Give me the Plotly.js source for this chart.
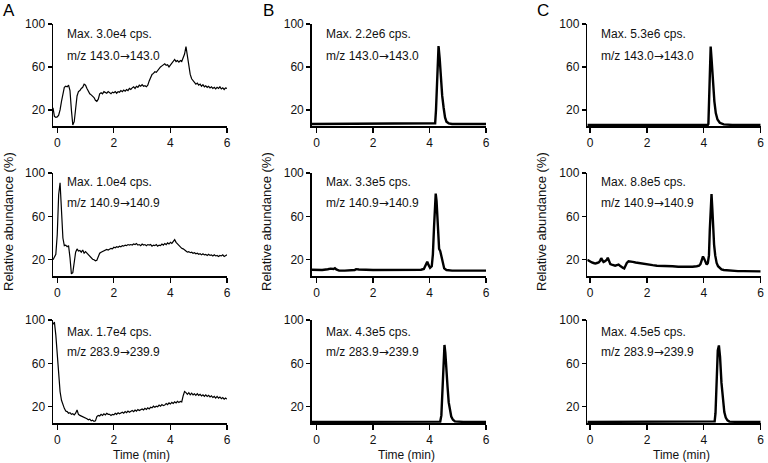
<!DOCTYPE html>
<html>
<head>
<meta charset="utf-8">
<script src="https://cdn.plot.ly/plotly-3.0.1.min.js"></script>
<style>
  html, body { margin: 0; padding: 0; background: #fff; }
  #chart { width: 768px; height: 463px; }
</style>
</head>
<body>
<div id="chart"></div>
<script>
// time grid (min) shared by the three column A traces
var tA = [
  -0.15, -0.10, -0.05, 0.00, 0.05, 0.10, 0.15, 0.20, 0.25, 0.30,
  0.35, 0.40, 0.45, 0.50, 0.55, 0.60, 0.65, 0.70, 0.75, 0.80,
  0.85, 0.90, 0.95, 1.00, 1.05, 1.10, 1.15, 1.20, 1.25, 1.30,
  1.35, 1.40, 1.45, 1.50, 1.55, 1.60, 1.65, 1.70, 1.75, 1.80,
  1.85, 1.90, 1.95, 2.00, 2.05, 2.10, 2.15, 2.20, 2.25, 2.30,
  2.35, 2.40, 2.45, 2.50, 2.55, 2.60, 2.65, 2.70, 2.75, 2.80,
  2.85, 2.90, 2.95, 3.00, 3.05, 3.10, 3.15, 3.20, 3.25, 3.30,
  3.35, 3.40, 3.45, 3.50, 3.55, 3.60, 3.65, 3.70, 3.75, 3.80,
  3.85, 3.90, 3.95, 4.00, 4.05, 4.10, 4.15, 4.20, 4.25, 4.30,
  4.35, 4.40, 4.45, 4.50, 4.55, 4.60, 4.65, 4.70, 4.75, 4.80,
  4.85, 4.90, 4.95, 5.00, 5.05, 5.10, 5.15, 5.20, 5.25, 5.30,
  5.35, 5.40, 5.45, 5.50, 5.55, 5.60, 5.65, 5.70, 5.75, 5.80,
  5.85, 5.90, 5.95, 6.00];

// A: blank, m/z 143.0->143.0
var yA1 = [
  22, 14, 13, 13.5, 15, 20, 28, 35, 41, 42,
  41.5, 43, 38, 20, 6, 9, 22, 33, 37, 38,
  40, 41, 44, 43, 40, 37, 35, 34, 33, 31.5,
  29, 28, 30, 35, 36, 35, 37, 36, 35.5, 37,
  36, 35, 36.5, 36, 37, 35.5, 37, 36.5, 38, 37,
  38.5, 37.5, 39, 38, 40, 39, 40.5, 41.5, 40, 42,
  41, 43, 42, 43.5, 42, 42.5, 41.5, 43, 47, 51,
  53, 54, 55.5, 55, 57, 58, 60, 61, 62.5, 63,
  61.5, 62, 60, 62, 64, 66, 67, 65, 66, 64.5,
  66, 65, 68, 72, 79, 70, 60, 53, 49, 47,
  45.5, 44, 45, 43, 44, 42, 43.5, 41.5, 42.5, 41,
  42, 40.5, 41.5, 40, 41, 39.5, 41, 40, 41.5, 39.5,
  40.5, 39, 40.5, 40];

// A: blank, m/z 140.9->140.9
var yA2 = [
  20, 22, 25, 43, 80, 91, 66, 40, 33, 33.5,
  32, 33, 22, 7, 8, 18, 27, 30, 28, 28.5,
  27, 29, 26, 27.5, 26, 24, 23, 21.5, 20.5, 20,
  19, 19.5, 23, 26, 27, 27.5, 28, 28.5, 29.5, 29,
  30, 30.5, 30, 31.5, 31, 32, 31.5, 32.5, 32, 33,
  32.5, 33.5, 33, 34, 33.5, 34, 33.5, 34.5, 34, 35,
  33.5, 34, 33, 34.5, 33.5, 34, 33, 34, 33.5, 34,
  32.5, 33.5, 33, 34, 32.5, 33.5, 33, 34.5, 33.5, 35,
  34, 35.5, 34.5, 36, 35, 36.5, 38.5, 36, 34.5, 33,
  32, 30.5, 30, 28.5, 28, 27, 27.5, 26.5, 27, 26,
  26.5, 25.5, 26, 25, 25.5, 24.5, 25.5, 24.5, 25, 24,
  25, 24, 24.5, 23.5, 24.5, 23.5, 24, 23, 24, 23.5,
  24.5, 23, 24, 24.5];

// A: blank, m/z 283.9->239.9
var yA3 = [
  96, 98, 86, 70, 48, 34, 26, 21, 18.5, 16,
  15.5, 14, 14.5, 13, 13.5, 12.5, 14, 17, 13, 12,
  11.5, 11, 10.5, 9.5, 9, 8, 8.5, 7, 7.5, 6.5,
  7, 11, 12, 11.5, 13, 12, 13.5, 12.5, 14, 13,
  13, 12, 13, 12.5, 14, 13, 14.5, 13.5, 14, 15,
  14, 15.5, 14.5, 16, 15, 15.5, 16.5, 15.5, 17, 16,
  17.5, 16.5, 17, 18, 17, 18.5, 17.5, 19, 18, 19.5,
  19, 20.5, 19.5, 20.5, 20, 21.5, 20.5, 22, 21, 21.5,
  23, 22, 23.5, 22.5, 24, 23, 24.5, 23.5, 25, 24,
  25, 24.5, 30, 34, 33, 31.5, 33, 31, 32.5, 31,
  32, 30.5, 32, 30.5, 31.5, 30, 31, 29.5, 31, 29.5,
  30.5, 29, 30, 28.5, 29.5, 28, 29.5, 28, 29, 27.5,
  28.5, 27, 28, 27];

// B and C columns
var tB1 = [-0.17, 1, 2, 3, 4, 4.17, 4.2, 4.23, 4.26, 4.29, 4.32, 4.36, 4.4, 4.45, 4.5, 4.55, 4.6, 4.68, 4.8, 5.5, 6];
var yB1 = [6.8, 6.8, 6.8, 6.8, 6.8, 6.8, 7.5, 20, 42, 65, 79.5, 68, 50, 33, 22, 13, 9, 7.5, 6.9, 6.8, 6.8];

var tC1 = [-0.1, 1, 2, 3, 4, 4.14, 4.16, 4.19, 4.22, 4.24, 4.27, 4.3, 4.33, 4.37, 4.42, 4.48, 4.56, 4.7, 5, 6];
var yC1 = [6, 6, 6, 6, 6, 6, 7, 30, 65, 79, 68, 55, 42, 28, 17, 11, 8, 6.5, 6, 6];

var tB2 = [-0.17, 0, 0.2, 0.4, 0.5, 0.6, 0.65, 0.7, 0.8, 1.0, 1.2, 1.35, 1.4, 1.5, 2, 2.5, 3, 3.5, 3.7, 3.8,
  3.86, 3.92, 3.97, 4.02, 4.08, 4.12, 4.16, 4.19, 4.22, 4.25, 4.28, 4.31, 4.34, 4.38, 4.42, 4.47, 4.52, 4.6, 4.8, 5.5, 6];
var yB2 = [10.8, 10.8, 10.5, 11.2, 11.8, 11.5, 12.2, 11, 10, 10, 10, 10.5, 11.3, 11, 10.5, 10.5, 10.5, 10.5, 10.8, 11.5,
  15, 18.2, 15, 12.5, 14, 25, 50, 72, 81, 74, 58, 40, 30, 28, 24, 17, 12, 10.5, 10, 10, 10];

var tC2 = [-0.1, -0.05, 0, 0.06, 0.12, 0.18, 0.24, 0.3, 0.35, 0.39, 0.43, 0.47, 0.51, 0.55, 0.59, 0.62, 0.66, 0.71, 0.76, 0.82,
  0.88, 0.94, 1.0, 1.05, 1.11, 1.16, 1.2, 1.24, 1.29, 1.35, 1.42, 1.5, 1.6, 1.7, 1.8, 1.9, 2.05, 2.2, 2.35, 2.5,
  2.7, 2.9, 3.1, 3.3, 3.45, 3.6, 3.75, 3.83, 3.88, 3.93, 3.97, 4.01, 4.06, 4.1, 4.14, 4.18, 4.21, 4.24, 4.27, 4.3,
  4.33, 4.36, 4.4, 4.45, 4.5, 4.56, 4.62, 4.7, 4.85, 5.0, 5.2, 5.4, 5.6, 5.8, 6.0];
var yC2 = [20, 19, 18, 17.5, 17, 16.5, 17, 17.5, 19, 21.5, 19.5, 18, 18.5, 19, 20, 22, 19, 16, 15.5, 15,
  14.5, 15, 15.5, 14.5, 13, 12.5, 12, 14, 17, 18.5, 18.5, 18, 17.5, 17, 16.5, 16, 15.5, 15, 14.5, 14.5,
  14, 14, 13.5, 13.5, 13, 13.5, 14, 14.5, 16, 19, 23, 21, 18, 15.5, 17, 24, 48, 74, 80.5, 66,
  48, 34, 24, 17, 14, 12, 11, 10.5, 10, 10, 9.5, 9.5, 9.5, 9.3, 9.3];

var tB3 = [-0.17, 1, 2, 3, 4, 4.3, 4.38, 4.42, 4.46, 4.5, 4.53, 4.56, 4.6, 4.64, 4.68, 4.72, 4.77, 4.83, 4.9, 5.2, 6];
var yB3 = [6, 6, 6, 6, 6, 6, 6.3, 12, 40, 70, 77, 70, 48, 38, 24, 16, 11, 8, 6.5, 6, 6];

var tC3 = [-0.1, 1, 2, 3, 4, 4.3, 4.38, 4.41, 4.45, 4.49, 4.53, 4.57, 4.62, 4.67, 4.72, 4.77, 4.83, 4.9, 5.2, 6];
var yC3 = [6, 6, 6, 6, 6, 6, 6.5, 14, 45, 72, 76.5, 66, 42, 26, 15, 10, 7.5, 6.3, 6, 6];

var ARROW = '<span style="font-family:DejaVu Sans">\u2192</span>';
var maxLabels = ['Max. 3.0e4 cps.', 'Max. 2.2e6 cps.', 'Max. 5.3e6 cps.',
                 'Max. 1.0e4 cps.', 'Max. 3.3e5 cps.', 'Max. 8.8e5 cps.',
                 'Max. 1.7e4 cps.', 'Max. 4.3e5 cps.', 'Max. 4.5e5 cps.'];
var mzLabels = ['m/z 143.0' + ARROW + '143.0', 'm/z 140.9' + ARROW + '140.9', 'm/z 283.9' + ARROW + '239.9'];
var panelLetters = ['A', 'B', 'C'];
var xTicks = [0, 2, 4, 6];
var yTicks = [20, 60, 100];

var W = 768, H = 463;
function px(x) { return x / W; }
function py(y) { return 1 - y / H; }

var FONT = 'Liberation Sans, Arial, Helvetica, sans-serif';

// pixel frames of the columns and rows
var colX = [[53, 227], [311.7, 486], [587.3, 760.7]];
var colRange = [[-0.15, 6], [-0.17, 6], [-0.1, 6]];
var rowY = [[24, 126], [173, 276], [320, 423]];

var series = [
  [tA, yA1, 1.2], [tB1, yB1, 2.4], [tC1, yC1, 2.4],
  [tA, yA2, 1.2], [tB2, yB2, 2.4], [tC2, yC2, 2.4],
  [tA, yA3, 1.2], [tB3, yB3, 2.4], [tC3, yC3, 2.4]
];

var data = [];
var layout = {
  width: W, height: H, autosize: false,
  margin: {l: 0, r: 0, t: 0, b: 0},
  paper_bgcolor: '#fff', plot_bgcolor: '#fff',
  showlegend: false,
  font: {family: FONT, size: 12, color: '#111'},
  annotations: []
};

for (var i = 0; i < 9; i++) {
  var row = Math.floor(i / 3), col = i % 3;
  var n = i === 0 ? '' : String(i + 1);
  data.push({
    x: series[i][0], y: series[i][1],
    xaxis: 'x' + n, yaxis: 'y' + n,
    type: 'scatter', mode: 'lines',
    line: {color: '#000', width: series[i][2]},
    hoverinfo: 'skip'
  });
  layout['xaxis' + n] = {
    domain: [px(colX[col][0]), px(colX[col][1])],
    range: colRange[col], anchor: 'y' + n,
    tickvals: xTicks, ticks: 'outside', ticklen: 5, tickwidth: 1.3, tickcolor: '#000',
    showline: true, linecolor: '#000', linewidth: 1.5,
    showgrid: false, zeroline: false, fixedrange: true,
    tickfont: {family: FONT, size: 12, color: '#111'}
  };
  layout['yaxis' + n] = {
    domain: [py(rowY[row][1]), py(rowY[row][0])],
    range: [5, 100], anchor: 'x' + n,
    tickvals: yTicks, ticks: 'outside', ticklen: 4, tickwidth: 1.3, tickcolor: '#000',
    showline: true, linecolor: '#000', linewidth: 1.5,
    showgrid: false, zeroline: false, fixedrange: true,
    tickfont: {family: FONT, size: 12, color: '#111'}
  };
}

// in-plot labels
var labelX = [65, 324, 599];
var labelY = [[34, 56], [182, 203], [332, 352]];
for (var j = 0; j < 9; j++) {
  var r = Math.floor(j / 3), c = j % 3;
  layout.annotations.push({
    xref: 'paper', yref: 'paper', x: px(labelX[c]), y: py(labelY[r][0]),
    xanchor: 'left', yanchor: 'middle', showarrow: false,
    text: maxLabels[j], font: {family: FONT, size: 12, color: '#111'}
  });
  layout.annotations.push({
    xref: 'paper', yref: 'paper', x: px(labelX[c]), y: py(labelY[r][1]),
    xanchor: 'left', yanchor: 'middle', showarrow: false,
    text: mzLabels[r], font: {family: FONT, size: 12, color: '#111'}
  });
}

var letterX = [9, 268, 543];
var yTitleX = [9, 267, 542];
var xTitleX = [141, 406, 681];
for (var k = 0; k < 3; k++) {
  layout.annotations.push({
    xref: 'paper', yref: 'paper', x: px(letterX[k]), y: py(10),
    xanchor: 'center', yanchor: 'middle', showarrow: false,
    text: panelLetters[k], font: {family: FONT, size: 17, color: '#000'}
  });
  layout.annotations.push({
    xref: 'paper', yref: 'paper', x: px(yTitleX[k]), y: py(222),
    xanchor: 'center', yanchor: 'middle', showarrow: false, textangle: -90,
    text: 'Relative abundance (%)', font: {family: FONT, size: 13, color: '#111'}
  });
  layout.annotations.push({
    xref: 'paper', yref: 'paper', x: px(xTitleX[k]), y: py(455),
    xanchor: 'center', yanchor: 'middle', showarrow: false,
    text: 'Time (min)', font: {family: FONT, size: 12, color: '#111'}
  });
}

Plotly.newPlot('chart', data, layout, {staticPlot: true, displayModeBar: false});
</script>
</body>
</html>
